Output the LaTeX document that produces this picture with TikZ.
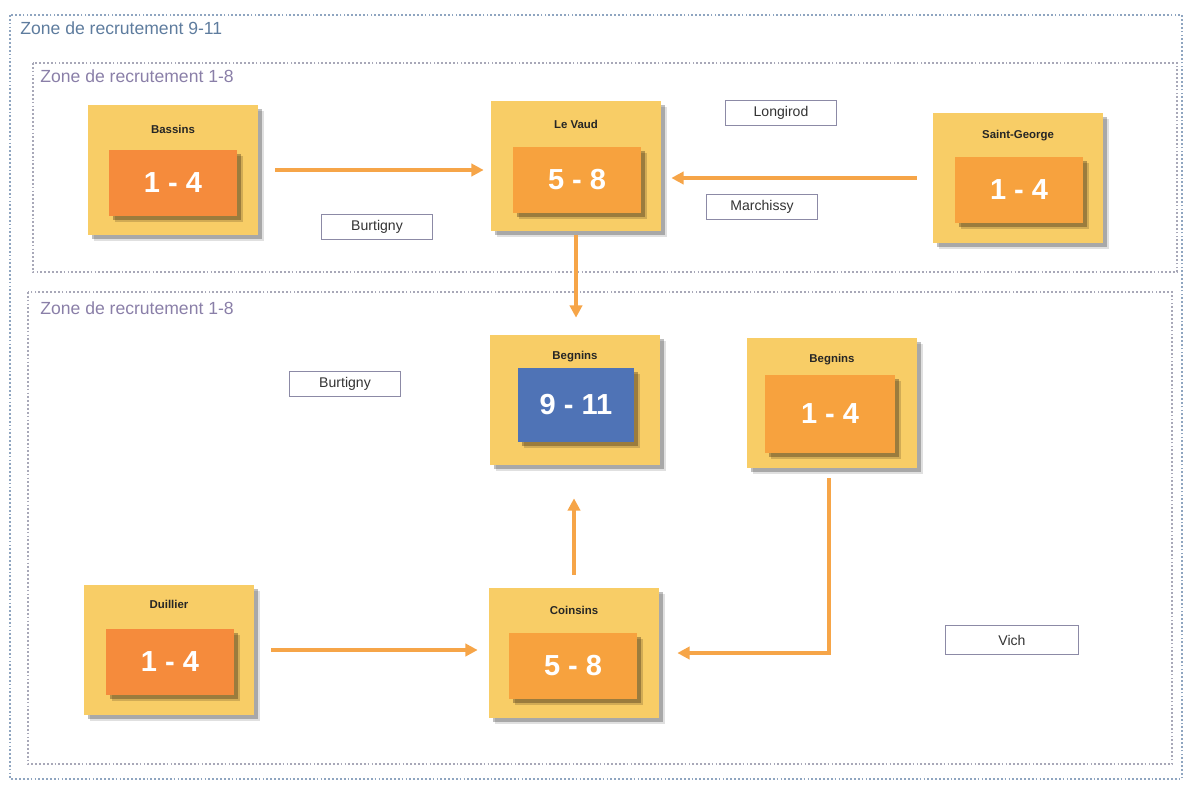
\documentclass[tikz,border=0pt]{standalone}
\usepackage{fontspec}
\setmainfont{Liberation Sans}
\usetikzlibrary{arrows.meta,shadows}
\definecolor{cardY}{HTML}{F8CD66}
\definecolor{orD}{HTML}{F58B3C}
\definecolor{orL}{HTML}{F7A23E}
\definecolor{blueN}{HTML}{4F73B6}
\definecolor{arrowC}{HTML}{F6A548}
\definecolor{zoneA}{HTML}{5E7C9E}
\definecolor{zoneB}{HTML}{8A7FA8}
\definecolor{borderA}{HTML}{8FA5C0}
\definecolor{borderB}{HTML}{A8A8B8}
\definecolor{lblB}{HTML}{8C8AA6}
\definecolor{txtC}{HTML}{333333}
\tikzset{
  card/.style={fill=cardY, draw=none, minimum width=3.4cm, minimum height=2.6cm,
    drop shadow={shadow xshift=3.5pt, shadow yshift=-3.5pt, fill=black, opacity=0.12},
    drop shadow={shadow xshift=2pt, shadow yshift=-2pt, fill=black, opacity=0.25}},
  numbox/.style={draw=none, minimum width=2.56cm, minimum height=1.32cm,
    text=white, font=\bfseries\fontsize{16.5}{18}\selectfont,
    drop shadow={shadow xshift=3.5pt, shadow yshift=-3.5pt, fill=black!70!brown, opacity=0.2},
    drop shadow={shadow xshift=2pt, shadow yshift=-2pt, fill=black!70!brown, opacity=0.35}},
  ttl/.style={font=\bfseries\fontsize{6.5}{8}\selectfont, text=black!85},
  lbl/.style={draw=lblB, line width=0.6pt, fill=white, minimum width=2.22cm, minimum height=0.5cm,
    inner sep=0pt, text=txtC, font=\fontsize{8}{9}\selectfont},
  zonelbl/.style={anchor=west, font=\fontsize{10}{12}\selectfont, inner sep=0pt},
  flow/.style={draw=arrowC, line width=2pt, -{Triangle[length=7pt,width=7pt]}},
}
\begin{document}
\begin{tikzpicture}[x=0.02cm,y=-0.02cm]
\useasboundingbox (0,0) rectangle (1192,787);
% zones
\draw[borderA, line width=0.8pt, dash pattern=on 1pt off 1.2pt] (10,15) rectangle (1182,779);
\node[zonelbl, text=zoneA] (z911) at (20,28) {Zone de recrutement 9-11};
\draw[borderB, line width=0.7pt, dash pattern=on 1pt off 1.2pt] (33,63) rectangle (1177,272);
\node[zonelbl, text=zoneB] (z18a) at (40,76) {Zone de recrutement 1-8};
\draw[borderB, line width=0.7pt, dash pattern=on 1pt off 1.2pt] (28,292) rectangle (1172,764);
\node[zonelbl, text=zoneB] (z18b) at (40,308) {Zone de recrutement 1-8};
% cards
\node[card] (bassins) at (173,170) {};
\node[ttl] (bassinsT) at (173,129) {Bassins};
\node[numbox, fill=orD] (bassinsN) at (173,183) {1 - 4};

\node[card] (levaud) at (576,166) {};
\node[ttl] (levaudT) at (576,124) {Le Vaud};
\node[numbox, fill=orL] (levaudN) at (577,180) {5 - 8};

\node[card] (sg) at (1018,178) {};
\node[ttl] (sgT) at (1018,136) {Saint-George};
\node[numbox, fill=orL] (sgN) at (1019,190) {1 - 4};

\node[card] (beg9) at (575,400) {};
\node[ttl] (beg9T) at (575,357) {Begnins};
\node[numbox, fill=blueN, minimum width=2.32cm, minimum height=1.48cm] (beg9N) at (576,405) {9 - 11};

\node[card] (beg1) at (832,403) {};
\node[ttl] (beg1T) at (832,360) {Begnins};
\node[numbox, fill=orL, minimum width=2.6cm, minimum height=1.56cm] (beg1N) at (830,414) {1 - 4};

\node[card] (duillier) at (169,650) {};
\node[ttl] (duillierT) at (169,604) {Duillier};
\node[numbox, fill=orD] (duillierN) at (170,662) {1 - 4};

\node[card] (coinsins) at (574,653) {};
\node[ttl] (coinsinsT) at (574,610) {Coinsins};
\node[numbox, fill=orL] (coinsinsN) at (573,666) {5 - 8};
% village labels
\node[lbl] (burt1) at (377,227) {Burtigny};
\node[lbl] (longirod) at (781,113) {Longirod};
\node[lbl] (marchissy) at (762,207) {Marchissy};
\node[lbl] (burt2) at (345,384) {Burtigny};
\node[lbl, minimum width=2.66cm, minimum height=0.58cm] (vich) at (1012,640) {Vich};
% arrows
\draw[flow, shorten <=0.34cm, shorten >=0.14cm] (bassins.east) -- (bassins.east -| levaud.west);
\draw[flow, shorten <=0.32cm, shorten >=0.2cm] (sg.west) -- (sg.west -| levaud.east);
\draw[flow, shorten <=0.08cm, shorten >=0.34cm] (levaud.south) -- (levaud.south |- beg9.north);
\draw[flow, shorten <=0.26cm, shorten >=0.66cm] (coinsins.north) -- (coinsins.north |- beg9.south);
\draw[flow, shorten <=0.34cm, shorten >=0.22cm] (duillier.east) -- (duillier.east -| coinsins.west);
\draw[flow, shorten <=0.2cm, shorten >=0.36cm] ([xshift=-0.06cm]beg1.south) |- (coinsins.east);
\end{tikzpicture}
\end{document}
